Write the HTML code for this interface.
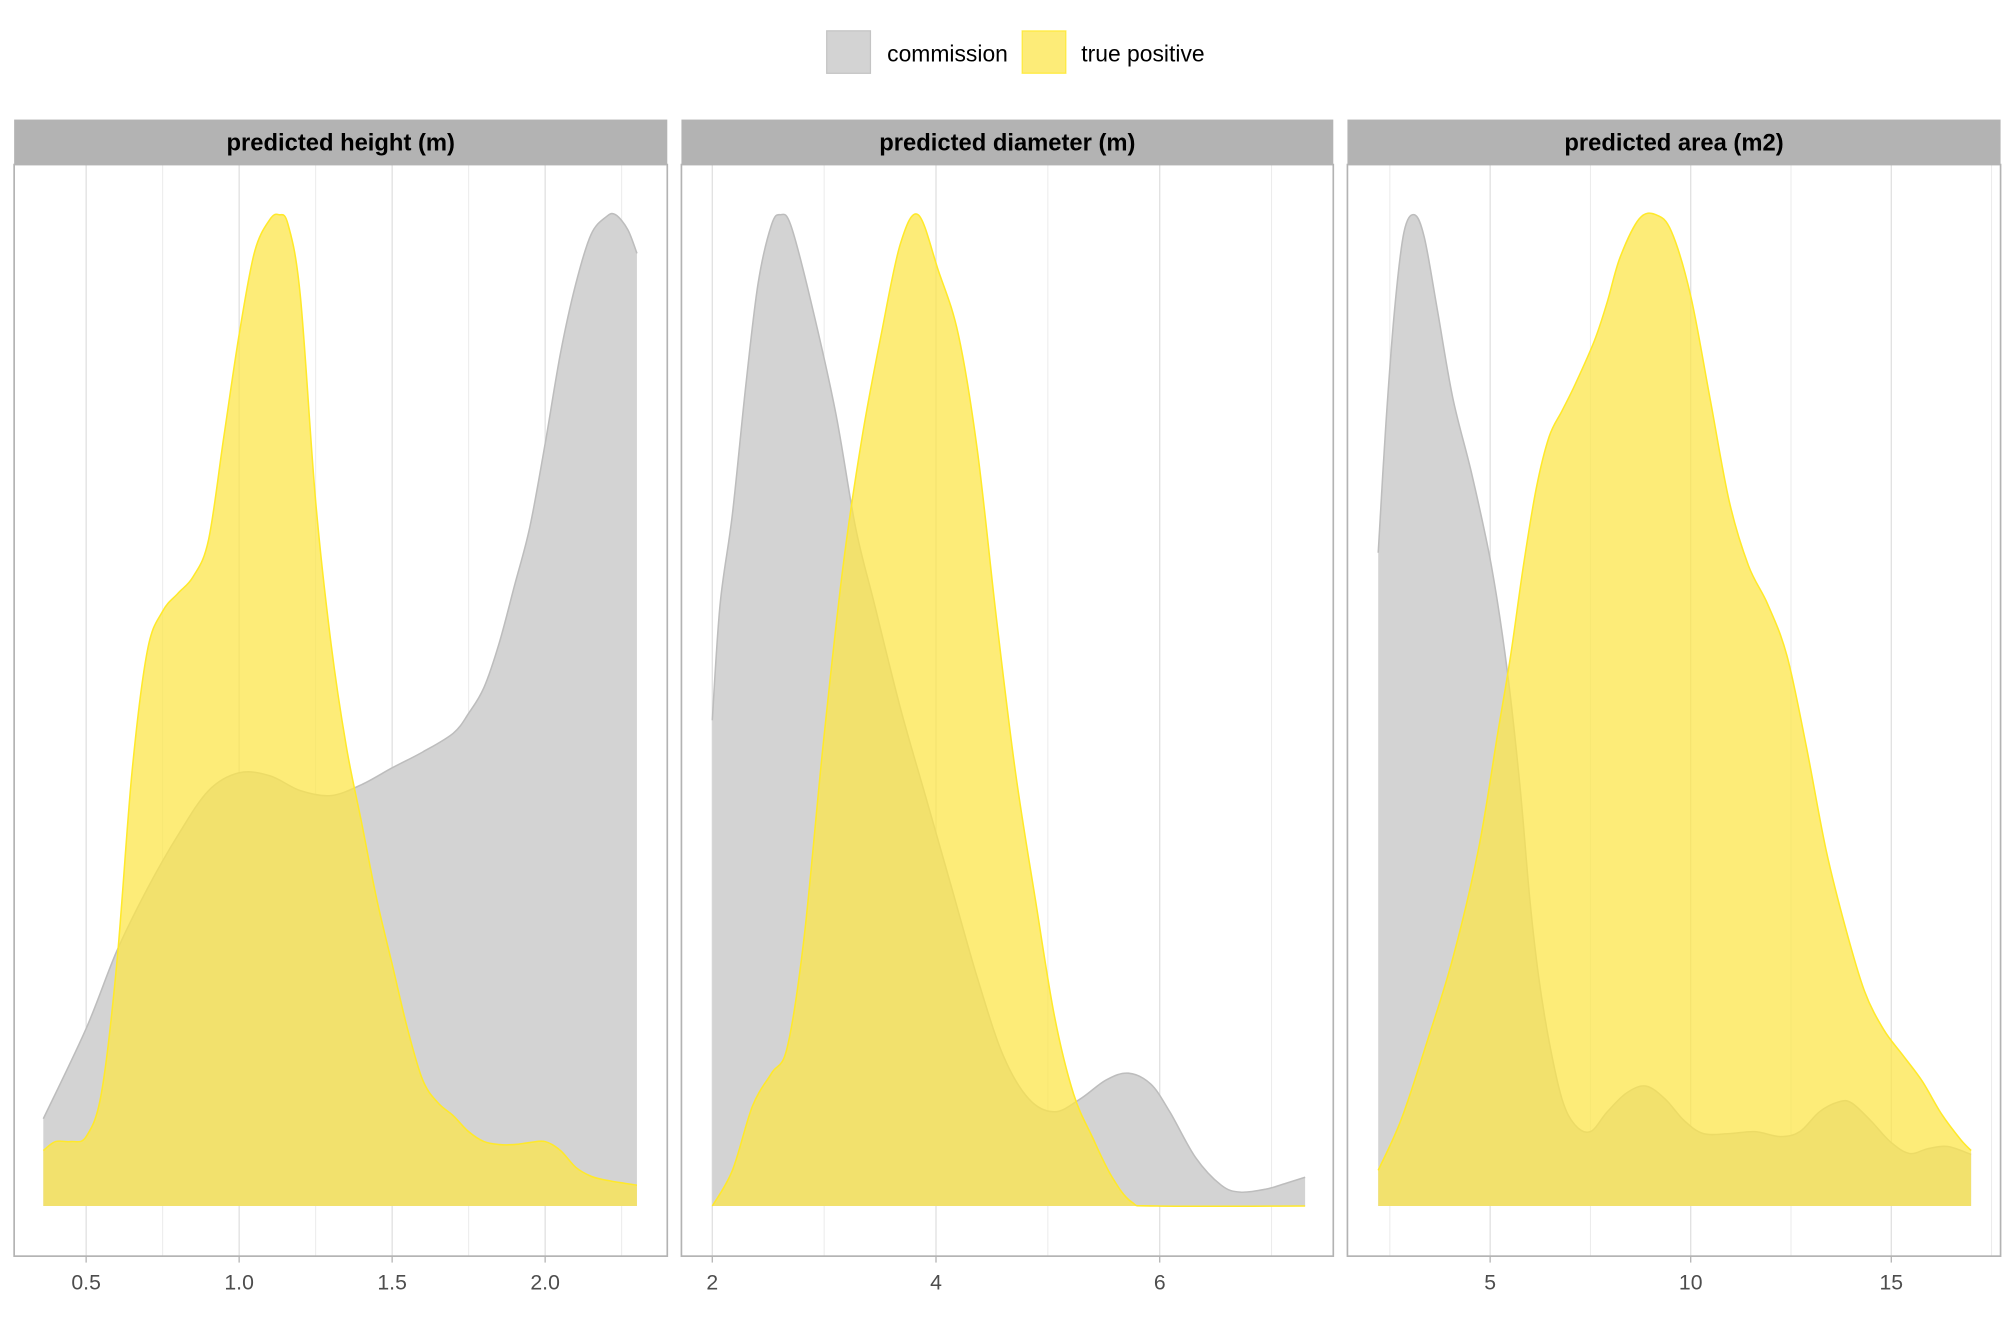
<!DOCTYPE html>
<html><head><meta charset="utf-8"><style>
html,body{margin:0;padding:0;background:#fff;}
svg{display:block;font-family:"Liberation Sans",Arial,sans-serif;}
</style></head><body>
<svg id="chart" width="2016" height="1344" viewBox="0 0 1568 1045.33" xmlns="http://www.w3.org/2000/svg">
<g>
<rect x="643" y="24" width="34" height="33" fill="#d3d3d3" stroke="#c4c4c4"/>
<text x="690" y="48" font-size="17.8" fill="#000">commission</text>
<rect x="795" y="24" width="34" height="33" fill="#fce64b" fill-opacity="0.75" stroke="#ffe600" stroke-opacity="0.6"/>
<text x="841" y="48" font-size="17.8" fill="#000">true positive</text>
</g>
<g id="panels"></g>
</svg>
<script>
// Panel 1: predicted height (m)
const hCommX=[0.36,0.5,0.6,0.7,0.8,0.9,1.0,1.1,1.2,1.3,1.4,1.5,1.6,1.7,1.75,1.8,1.85,1.9,1.95,2.0,2.05,2.1,2.15,2.2,2.23,2.27,2.30];
const hCommY=[0.088,0.179,0.257,0.32,0.374,0.419,0.437,0.434,0.419,0.414,0.425,0.442,0.458,0.477,0.497,0.523,0.568,0.626,0.685,0.769,0.86,0.93,0.98,0.998,1.0,0.985,0.961];
const hTpX=[0.36,0.4,0.45,0.5,0.55,0.6,0.65,0.7,0.75,0.8,0.85,0.9,0.95,1.0,1.05,1.1,1.13,1.16,1.2,1.25,1.3,1.35,1.4,1.45,1.5,1.55,1.6,1.65,1.7,1.75,1.8,1.85,1.9,1.95,2.0,2.05,2.1,2.15,2.2,2.30];
const hTpY=[0.056,0.065,0.065,0.07,0.114,0.244,0.438,0.56,0.6,0.618,0.635,0.672,0.776,0.879,0.962,0.995,1.0,0.99,0.918,0.711,0.568,0.464,0.387,0.309,0.244,0.179,0.127,0.104,0.091,0.075,0.065,0.062,0.062,0.064,0.065,0.056,0.039,0.03,0.026,0.021];
// Panel 2: predicted diameter (m)
const dCommX=[2.0,2.07,2.18,2.30,2.41,2.53,2.61,2.70,2.87,3.10,3.28,3.45,3.68,3.91,4.14,4.37,4.60,4.83,5.06,5.29,5.52,5.72,5.92,6.09,6.32,6.55,6.72,6.95,7.13,7.30];
const dCommY=[0.49,0.607,0.698,0.828,0.931,0.99,1.0,0.99,0.918,0.802,0.685,0.607,0.503,0.412,0.321,0.230,0.152,0.108,0.095,0.108,0.127,0.134,0.123,0.095,0.049,0.021,0.014,0.017,0.023,0.029];
const dTpX=[2.0,2.18,2.36,2.53,2.67,2.82,2.99,3.17,3.34,3.51,3.68,3.84,4.02,4.20,4.37,4.54,4.71,4.89,5.06,5.23,5.40,5.57,5.75,5.98,7.30];
const dTpY=[0,0.036,0.101,0.134,0.160,0.270,0.464,0.646,0.776,0.879,0.970,1.0,0.944,0.879,0.762,0.593,0.438,0.308,0.191,0.113,0.069,0.030,0.004,0,0];
// Panel 3: predicted area (m2)
const aCommX=[2.21,2.40,2.62,2.85,3.11,3.36,3.68,4.07,4.55,5.03,5.42,5.74,5.99,6.21,6.47,6.79,7.11,7.50,7.92,8.40,8.88,9.36,9.84,10.32,10.96,11.60,12.24,12.72,13.21,13.69,14.01,14.49,14.97,15.45,15.93,16.41,16.99];
const aCommY=[0.659,0.788,0.905,0.982,1.0,0.977,0.905,0.815,0.737,0.646,0.542,0.425,0.309,0.231,0.166,0.108,0.082,0.075,0.095,0.114,0.121,0.108,0.086,0.073,0.073,0.075,0.070,0.075,0.095,0.105,0.104,0.086,0.065,0.053,0.058,0.060,0.052];
const aTpX=[2.21,2.79,3.43,4.07,4.71,5.19,5.51,5.83,6.15,6.47,6.79,7.11,7.60,7.92,8.24,8.72,9.13,9.52,10.00,10.48,10.96,11.44,11.92,12.40,12.88,13.37,13.85,14.33,14.81,15.29,15.77,16.25,16.73,16.99];
const aTpY=[0.036,0.088,0.166,0.250,0.360,0.477,0.555,0.646,0.724,0.776,0.802,0.828,0.873,0.912,0.957,0.996,1.0,0.983,0.918,0.815,0.711,0.646,0.607,0.555,0.464,0.360,0.282,0.217,0.178,0.152,0.126,0.093,0.067,0.056];
// tick labels
const hTicks=[0.5,1.0,1.5,2.0];
const hTickLabels=["0.5","1.0","1.5","2.0"];
const hMinor=[0.75,1.25,1.75,2.25];
const dTicks=[2,4,6];
const dTickLabels=["2","4","6"];
const dMinor=[3,5,7];
const aTicks=[5,10,15];
const aTickLabels=["5","10","15"];
const aMinor=[2.5,7.5,12.5,17.5];

const NS="http://www.w3.org/2000/svg";
const root=document.getElementById('panels');
function mk(tag,attrs,parent){const e=document.createElementNS(NS,tag);for(const k in attrs)e.setAttribute(k,attrs[k]);parent.appendChild(e);return e;}
const Y0=938,YH=771;
function yS(v){return Y0-v*YH;}
function smooth(pts){
  let d='M'+pts[0][0].toFixed(2)+','+pts[0][1].toFixed(2);
  for(let i=0;i<pts.length-1;i++){
    const p0=pts[Math.max(0,i-1)],p1=pts[i],p2=pts[i+1],p3=pts[Math.min(pts.length-1,i+2)];
    const c1x=p1[0]+(p2[0]-p0[0])/6,c1y=p1[1]+(p2[1]-p0[1])/6;
    const c2x=p2[0]-(p3[0]-p1[0])/6,c2y=p2[1]-(p3[1]-p1[1])/6;
    d+=' C'+c1x.toFixed(2)+','+c1y.toFixed(2)+' '+c2x.toFixed(2)+','+c2y.toFixed(2)+' '+p2[0].toFixed(2)+','+p2[1].toFixed(2);
  }
  return d;
}
const panels=[
 {key:'height',title:'predicted height (m)',left:11,right:519,x0:0.5,px0:67,ppu:238,cx:hCommX,cy:hCommY,tx:hTpX,ty:hTpY,ticks:hTicks,labels:hTickLabels,minor:hMinor},
 {key:'diameter',title:'predicted diameter (m)',left:530,right:1037,x0:2,px0:554,ppu:87,cx:dCommX,cy:dCommY,tx:dTpX,ty:dTpY,ticks:dTicks,labels:dTickLabels,minor:dMinor},
 {key:'area',title:'predicted area (m2)',left:1048,right:1556,x0:5,px0:1159,ppu:31.2,cx:aCommX,cy:aCommY,tx:aTpX,ty:aTpY,ticks:aTicks,labels:aTickLabels,minor:aMinor}
];
panels.forEach(p=>{
  const g=mk('g',{},root);
  
  
  const xS=v=>p.px0+(v-p.x0)*p.ppu;
  const clipId='clip-'+p.key;
  const cp=mk('clipPath',{id:clipId},g);
  mk('rect',{x:p.left,y:128,width:p.right-p.left,height:977-128},cp);
  const grid=mk('g',{'clip-path':'url(#'+clipId+')'},g);
  
  
  p.minor.forEach(v=>{const l=mk('line',{x1:xS(v),x2:xS(v),y1:128,y2:977,stroke:'#ebebeb','stroke-width':0.8},grid);
    
    });
  p.ticks.forEach(v=>{const l=mk('line',{x1:xS(v),x2:xS(v),y1:128,y2:977,stroke:'#e0e0e0','stroke-width':1},grid);
    
    });
  function area(xs,ys,fill,fop,stroke,name){
    const pts=xs.map((x,i)=>[xS(x),yS(ys[i])]);
    const top=smooth(pts);
    const a=mk('path',{d:top+' L'+pts[pts.length-1][0]+','+Y0+' L'+pts[0][0]+','+Y0+' Z',fill:fill,'fill-opacity':fop},g);
    
    
    const l=mk('path',{d:top,fill:'none',stroke:stroke,'stroke-width':1.2},g);
    
    
  }
  area(p.cx,p.cy,'#d3d3d3',1,'#bdbdbd','commission-density');
  area(p.tx,p.ty,'#fce64b',0.75,'#ffe92a','true-positive-density');
  const br=mk('rect',{x:p.left,y:128,width:p.right-p.left,height:977-128,fill:'none',stroke:'#b3b3b3','stroke-width':1.3},g);
  
  
  const st=mk('rect',{x:p.left,y:93,width:p.right-p.left,height:35,fill:'#b3b3b3'},g);
  
  
  const tt=mk('text',{x:(p.left+p.right)/2,y:117,'text-anchor':'middle','font-size':18.5,'font-weight':'bold',fill:'#000'},g);
  tt.textContent=p.title;
  
  
  p.ticks.forEach((v,i)=>{
    const tk=mk('line',{x1:xS(v),x2:xS(v),y1:977,y2:982,stroke:'#b3b3b3','stroke-width':1},g);
    
    
    const t=mk('text',{x:xS(v),y:1003,'text-anchor':'middle','font-size':16.5,fill:'#4d4d4d'},g);
    t.textContent=p.labels[i];
    
    
  });
});
</script>
</body></html>
